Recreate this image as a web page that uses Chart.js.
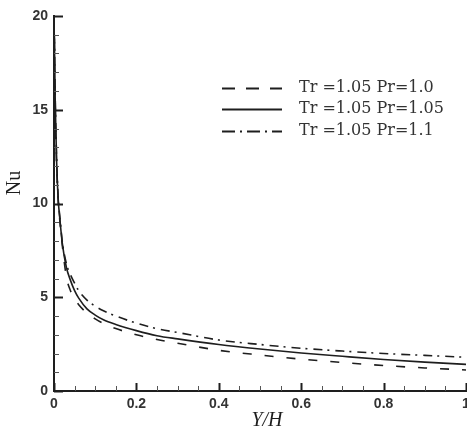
<!DOCTYPE html>
<html>
<head>
<meta charset="utf-8">
<script src="https://cdn.jsdelivr.net/npm/chart.js@4.4.0/dist/chart.umd.min.js"></script>
<style>
    html, body { margin: 0; padding: 0; background: #fff; }
    .chart-box { width: 467px; height: 432px; position: relative; }
</style>
</head>
<body>
<div class="chart-box"><canvas id="nuChart"></canvas></div>
<script>
// valores
const yOverH = [0.001, 0.003, 0.006, 0.01, 0.015, 0.02, 0.03, 0.04, 0.05, 0.06, 0.08, 0.1, 0.12, 0.15, 0.2, 0.25, 0.3, 0.4, 0.5, 0.6, 0.7, 0.8, 0.9, 1.0];
const nuPr100 = [18.6, 15.2, 12.3, 10.2, 8.9, 7.8, 6.1, 5.35, 4.9, 4.6, 4.15, 3.85, 3.6, 3.33, 3.0, 2.75, 2.55, 2.17, 1.92, 1.7, 1.52, 1.36, 1.23, 1.12];
const nuPr105 = [18.8, 15.4, 12.5, 10.3, 9.0, 7.9, 6.6, 5.9, 5.35, 4.95, 4.38, 4.05, 3.8, 3.55, 3.22, 2.95, 2.78, 2.48, 2.24, 2.03, 1.85, 1.68, 1.54, 1.42];
const nuPr110 = [19.0, 15.6, 12.7, 10.4, 9.1, 8.0, 6.8, 6.2, 5.75, 5.35, 4.85, 4.52, 4.28, 4.0, 3.62, 3.32, 3.12, 2.72, 2.48, 2.28, 2.13, 2.0, 1.9, 1.8];

const seriesLabels = ['Tr =1.05 Pr=1.0', 'Tr =1.05 Pr=1.05', 'Tr =1.05 Pr=1.1'];
const xTickValues = [0, 0.2, 0.4, 0.6, 0.8, 1];
const yTickValues = [0, 5, 10, 15, 20];

const ink = '#1e1e1e';

function withMinor(major, parts) {
    const out = [];
    major.forEach((v, i) => {
        out.push({ value: v, major: true });
        if (i < major.length - 1) {
            const step = (major[i + 1] - v) / parts;
            for (let k = 1; k < parts; k++) out.push({ value: v + k * step, major: false });
        }
    });
    return out;
}

function toPoints(values) {
    return yOverH.map((x, i) => ({ x: x, y: values[i] }));
}

// ticks para dentro, como no original
function drawInnerTicks(chart) {
    const ctx = chart.ctx;
    const xs = chart.scales.x;
    const ys = chart.scales.y;
    const bottom = ys.getPixelForValue(0);
    const left = xs.getPixelForValue(0);
    ctx.save();
    ctx.setLineDash([]);
    withMinor(xTickValues, 4).forEach(t => {
        const px = Math.round(xs.getPixelForValue(t.value)) + 0.5;
        ctx.strokeStyle = t.major ? ink : '#555';
        ctx.lineWidth = t.major ? 2 : 1;
        ctx.beginPath();
        ctx.moveTo(px, bottom);
        ctx.lineTo(px, bottom - (t.major ? 8 : 5));
        ctx.stroke();
    });
    withMinor(yTickValues, 5).forEach(t => {
        const py = Math.round(ys.getPixelForValue(t.value)) + 0.5;
        ctx.strokeStyle = t.major ? ink : '#555';
        ctx.lineWidth = t.major ? 2 : 1;
        ctx.beginPath();
        ctx.moveTo(left, py);
        ctx.lineTo(left + (t.major ? 9 : 5), py);
        ctx.stroke();
    });
    ctx.restore();
}

const axisTitles = {
    id: 'axisTitles',
    afterDraw(chart) {
        drawInnerTicks(chart);
        const { ctx } = chart;
        ctx.save();
        ctx.fillStyle = ink;
        ctx.textAlign = 'center';
        ctx.textBaseline = 'middle';
        ctx.font = 'italic 20px "Liberation Serif"';
        ctx.fillText('Y/H', 267, 421);
        ctx.translate(15, 183);
        ctx.rotate(-Math.PI / 2);
        ctx.font = '20px "Liberation Serif"';
        ctx.fillText('Nu', 0, 0);
        ctx.restore();
    }
};

const insideLegend = {
    id: 'insideLegend',
    afterDraw(chart) {
        const { ctx } = chart;
        const rows = [88, 109, 131];
        ctx.save();
        chart.data.datasets.forEach((ds, i) => {
            const y = rows[i] + 0.5;
            ctx.strokeStyle = ds.borderColor;
            ctx.lineWidth = 2;
            ctx.setLineDash(ds.legendDash || []);
            ctx.beginPath();
            ctx.moveTo(222, y);
            ctx.lineTo(282, y);
            ctx.stroke();
            ctx.setLineDash([]);
            ctx.fillStyle = '#333';
            ctx.font = '16px "DejaVu Serif"';
            ctx.textAlign = 'left';
            ctx.textBaseline = 'middle';
            ctx.fillText(ds.label, 299, rows[i]);
        });
        ctx.restore();
    }
};

new Chart(document.getElementById('nuChart'), {
    type: 'line',
    data: {
        datasets: [
            {
                label: seriesLabels[0],
                data: toPoints(nuPr100),
                borderColor: ink,
                borderWidth: 1.6,
                borderDash: [9, 13],
                legendDash: [13, 11],
                pointRadius: 0,
                cubicInterpolationMode: 'monotone'
            },
            {
                label: seriesLabels[1],
                data: toPoints(nuPr105),
                borderColor: ink,
                borderWidth: 1.6,
                pointRadius: 0,
                cubicInterpolationMode: 'monotone'
            },
            {
                label: seriesLabels[2],
                data: toPoints(nuPr110),
                borderColor: ink,
                borderWidth: 1.6,
                borderDash: [9, 5, 2, 6],
                legendDash: [13, 5, 2, 5],
                pointRadius: 0,
                cubicInterpolationMode: 'monotone'
            }
        ]
    },
    options: {
        responsive: true,
        maintainAspectRatio: false,
        animation: false,
        layout: { padding: { top: 16, right: 1, left: 0, bottom: 0 } },
        plugins: {
            legend: { display: false },
            tooltip: { enabled: false }
        },
        scales: {
            x: {
                type: 'linear',
                min: 0,
                max: 1,
                afterBuildTicks: scale => { scale.ticks = withMinor(xTickValues, 4); },
                afterFit: scale => {
                    scale.height = 41;
                    scale.paddingLeft = 0;
                    scale.paddingRight = 0;
                },
                ticks: {
                    autoSkip: false,
                    maxRotation: 0,
                    padding: 5,
                    color: '#333',
                    font: { family: '"Liberation Sans"', size: 14, weight: 'bold' },
                    callback: (value, i, ticks) => ticks[i].major ? String(value) : ''
                },
                grid: { display: false, drawTicks: false },
                border: { display: true, color: ink, width: 2 }
            },
            y: {
                min: 0,
                max: 20,
                afterBuildTicks: scale => { scale.ticks = withMinor(yTickValues, 5); },
                afterFit: scale => {
                    scale.width = 54;
                    scale.paddingTop = 0;
                    scale.paddingBottom = 0;
                },
                ticks: {
                    autoSkip: false,
                    padding: 6,
                    color: '#333',
                    font: { family: '"Liberation Sans"', size: 14, weight: 'bold' },
                    callback: (value, i, ticks) => ticks[i].major ? String(value) : ''
                },
                grid: { display: false, drawTicks: false },
                border: { display: true, color: ink, width: 2 }
            }
        }
    },
    plugins: [axisTitles, insideLegend]
});
</script>
</body>
</html>
